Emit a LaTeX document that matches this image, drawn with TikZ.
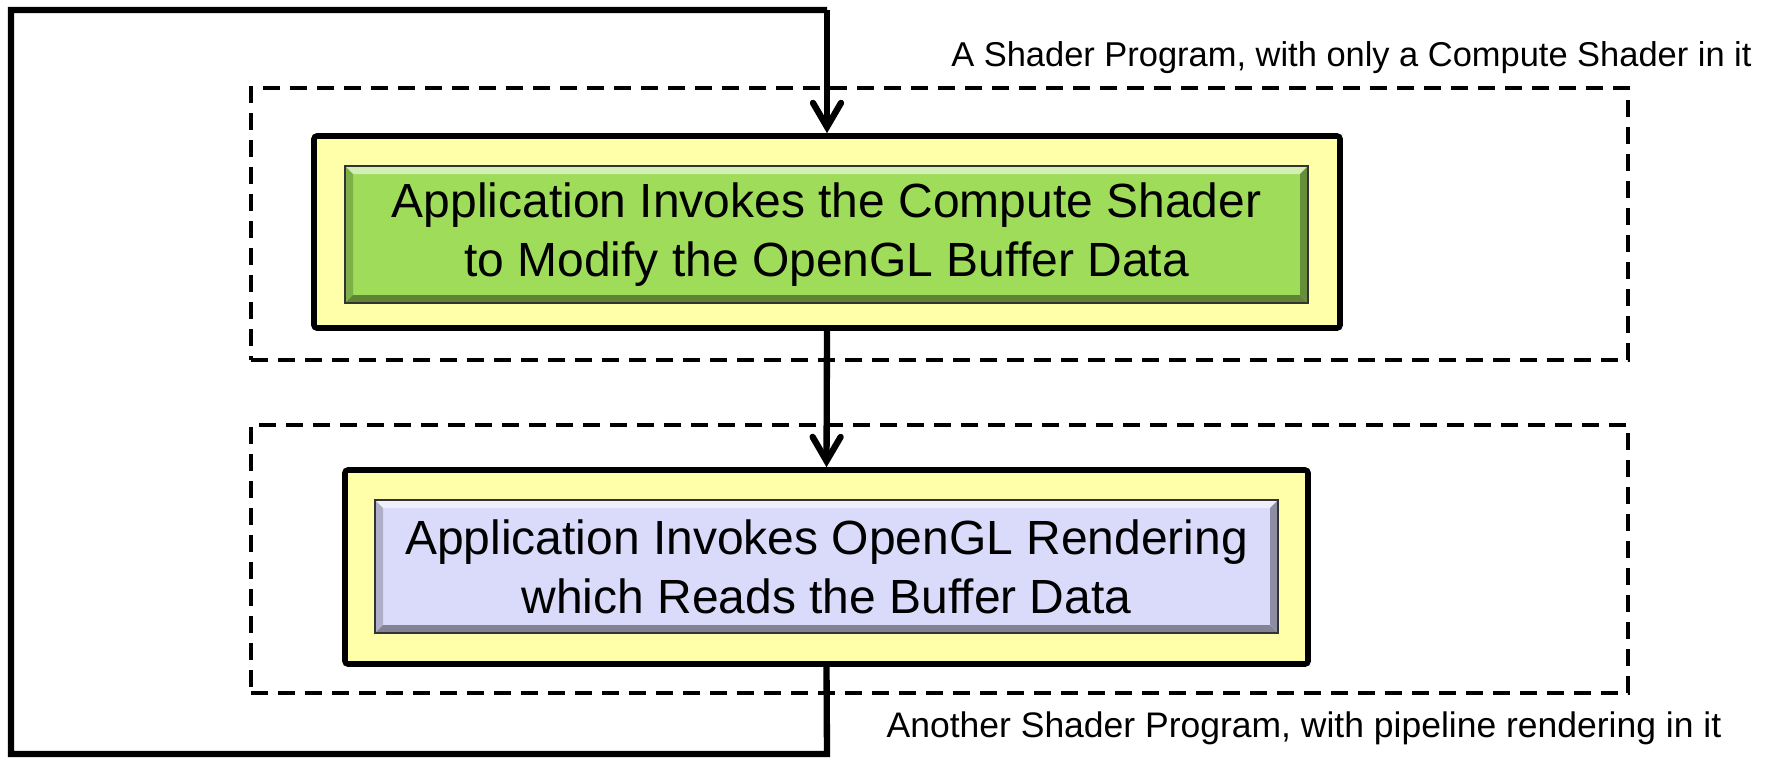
\documentclass[tikz,border=0pt]{standalone}
\usepackage{fontspec}
\setmainfont{Liberation Sans}
\usetikzlibrary{arrows.meta}
\definecolor{padyellow}{RGB}{255,255,170}
\definecolor{computegreen}{RGB}{158,220,90}
\definecolor{renderblue}{RGB}{218,218,250}
\begin{document}
\begin{tikzpicture}[x=1mm,y=1mm,
    program/.style={draw,dashed,line width=0.9pt,dash pattern=on 1.7mm off 1mm,minimum width=137.7mm},
    pad/.style={draw,fill=padyellow,line width=1.6pt,rounded corners=0.3mm},
    bevel/.style={draw=black!80,line width=0.6pt,fill=#1,align=center,font=\fontsize{13.65}{16.8}\selectfont,
        path picture={
            \fill[#1!45!white] (path picture bounding box.north west) -- (path picture bounding box.north east)
                -- ([shift={(-0.8mm,-0.8mm)}]path picture bounding box.north east) -- ([shift={(0.8mm,-0.8mm)}]path picture bounding box.north west) -- cycle;
            \fill[#1!80!black] (path picture bounding box.north west) -- ([shift={(0.8mm,-0.8mm)}]path picture bounding box.north west)
                -- ([shift={(0.8mm,0.8mm)}]path picture bounding box.south west) -- (path picture bounding box.south west) -- cycle;
            \fill[#1!60!black] (path picture bounding box.south west) -- (path picture bounding box.south east)
                -- ([shift={(-0.8mm,0.8mm)}]path picture bounding box.south east) -- ([shift={(0.8mm,0.8mm)}]path picture bounding box.south west) -- cycle;
            \fill[#1!65!black] (path picture bounding box.north east) -- ([shift={(-0.8mm,-0.8mm)}]path picture bounding box.north east)
                -- ([shift={(-0.8mm,0.8mm)}]path picture bounding box.south east) -- (path picture bounding box.south east) -- cycle;
        }},
    flow/.style={line width=1.8pt},
    note/.style={font=\fontsize{9.8}{12}\selectfont}]
    \useasboundingbox (0,0) rectangle (177.3,-75.8);

    \node[program,minimum height=27.2mm] (computeprog) at (93.95,-22.4) {};
    \node[program,minimum height=26.8mm] (renderprog) at (93.95,-55.9) {};
    \node[note,anchor=east] (computenote) at (176.4,-5.75) {A Shader Program, with only a Compute Shader in it};
    \node[note,font=\fontsize{10.1}{12}\selectfont] (rendernote) at (130.4,-72.85) {Another Shader Program, with pipeline rendering in it};

    \node[pad,minimum width=102.6mm,minimum height=19.2mm] (computepad) at (82.7,-23.2) {};
    \node[bevel=computegreen,minimum width=96.3mm,minimum height=13.7mm] (compute) at (82.65,-23.45) {Application Invokes the Compute Shader\\to Modify the OpenGL Buffer Data};
    \node[pad,minimum width=96.3mm,minimum height=19.4mm] (renderpad) at (82.65,-56.7) {};
    \node[bevel=renderblue,minimum width=90.3mm,minimum height=13.3mm] (render) at (82.65,-56.65) {Application Invokes OpenGL Rendering\\which Reads the Buffer Data};

    \coordinate (looptop) at (82.7,-1.0);
    \coordinate (loopbottom) at (82.7,-75.4);

    \draw[flow,-{Straight Barb[length=2.4mm,width=2.8mm,line width=1.8pt,line cap=round]}] (looptop) -- (computepad.north);
    \draw[flow,-{Straight Barb[length=2.4mm,width=2.8mm,line width=1.8pt,line cap=round]}] (computepad.south) -- (renderpad.north);
    \draw[flow] (renderpad.south) -- (loopbottom) -| (1.1,-1.0) -- (looptop);
\end{tikzpicture}
\end{document}
